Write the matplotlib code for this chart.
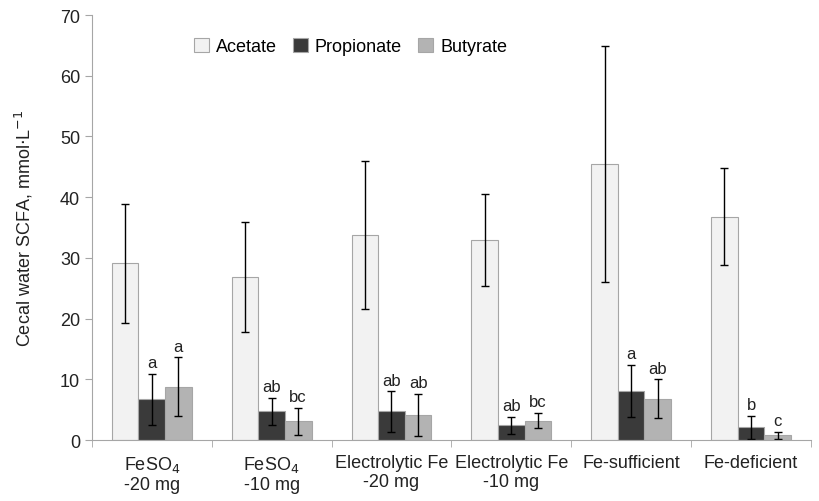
import numpy as np
import matplotlib.pyplot as plt

plt.rcParams['font.family'] = ['Liberation Sans', 'DejaVu Sans']

groups = ["FeSO$_4$\n-20 mg", "FeSO$_4$\n-10 mg", "Electrolytic Fe\n-20 mg",
          "Electrolytic Fe\n-10 mg", "Fe-sufficient", "Fe-deficient"]

acetate = [29.1, 26.8, 33.7, 33.0, 45.5, 36.8]
acetate_sd = [9.75, 9.05, 12.2, 7.55, 19.4, 7.95]
propionate = [6.7, 4.7, 4.7, 2.4, 8.1, 2.1]
propionate_sd = [4.2, 2.2, 3.3, 1.4, 4.3, 1.9]
butyrate = [8.8, 3.1, 4.1, 3.2, 6.8, 0.8]
butyrate_sd = [4.8, 2.2, 3.5, 1.3, 3.2, 0.6]

propionate_letters = ["a", "ab", "ab", "ab", "a", "b"]
butyrate_letters = ["a", "bc", "ab", "bc", "ab", "c"]

fig = plt.figure(figsize=(8.2, 5.02), dpi=100)
ax = fig.add_axes([0.112, 0.1215, 0.877, 0.8465])

x = np.arange(len(groups))
w = 0.222
edge = "#a6a6a6"
series = [
    ("Acetate", acetate, acetate_sd, "#f2f2f2", None),
    ("Propionate", propionate, propionate_sd, "#3a3a3a", propionate_letters),
    ("Butyrate", butyrate, butyrate_sd, "#b3b3b3", butyrate_letters),
]
for i, (name, vals, sd, color, letters) in enumerate(series):
    pos = x + (i - 1) * w
    ax.bar(pos, vals, w, color=color, edgecolor=edge, linewidth=0.8, label=name)
    ax.errorbar(pos, vals, yerr=sd, fmt="none", ecolor="black",
                elinewidth=1, capsize=3, capthick=1)
    if letters:
        for p, v, s, t in zip(pos, vals, sd, letters):
            ax.text(p, v + s + 0.6, t, ha="center", va="bottom", fontsize=12,
                    color="#222222")

ax.set_xlim(-0.5, len(groups) - 0.5)
ax.set_ylim(0, 70)
ax.set_yticks(range(0, 71, 10))
ax.set_xticks(x)
ax.set_xticklabels(groups, fontsize=13, color="#222222")
ax.set_xticks(np.arange(-0.5, len(groups)), minor=True)
ax.tick_params(axis="x", which="major", length=0, pad=10)
ax.tick_params(axis="x", which="minor", length=5, color=edge)
ax.tick_params(axis="y", length=5, color=edge, labelsize=13, labelcolor="#222222")
for s in ["top", "right"]:
    ax.spines[s].set_visible(False)
for s in ["left", "bottom"]:
    ax.spines[s].set_color(edge)
ax.set_ylabel("Cecal water SCFA, mmol$\\cdot$L$^{-1}$", fontsize=13,
              color="#222222", labelpad=18)

ax.legend(loc="upper left", bbox_to_anchor=(0.12, 0.985), ncol=3, frameon=False,
          fontsize=13, handlelength=0.8, handleheight=0.8, handletextpad=0.4,
          columnspacing=0.9)

fig.savefig("out.png", dpi=100)
